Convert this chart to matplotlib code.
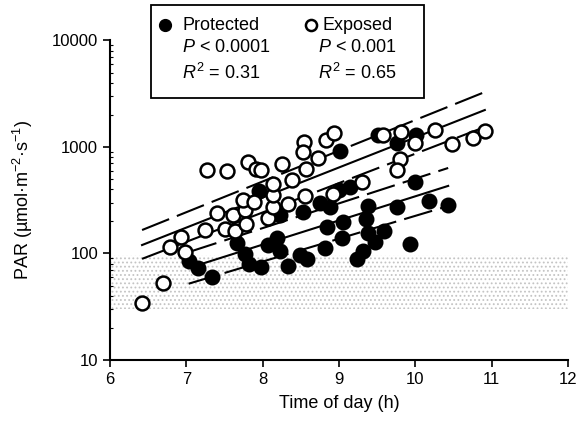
import matplotlib
matplotlib.use("Agg")
import matplotlib.pyplot as plt
from matplotlib.patches import Rectangle
from matplotlib.lines import Line2D

plt.rcParams['font.family'] = ['Liberation Sans', 'DejaVu Sans']
plt.rcParams['mathtext.fontset'] = 'custom'
plt.rcParams['mathtext.rm'] = 'Liberation Sans'
plt.rcParams['mathtext.it'] = 'Liberation Sans:italic'
plt.rcParams['font.size'] = 12
plt.rcParams['hatch.linewidth'] = 0.8

# Exposed sites (open circles)
exposed_time = [6.42, 6.69, 6.79, 6.93, 6.98, 7.25, 7.40, 7.51, 7.61, 7.64,
                7.77, 7.78, 7.74, 7.89, 8.07, 8.14, 8.14, 8.14, 8.38, 8.33,
                8.56, 8.92, 7.27, 7.53, 7.81, 7.91, 7.98, 8.25, 8.54, 8.53,
                8.73, 8.57, 8.83, 8.94, 9.30, 9.58, 9.81, 10.00, 9.80, 9.76,
                10.26, 10.48, 10.76, 10.91]
exposed_par = [34, 53, 115, 143, 103, 166, 240, 170, 230, 163,
               256, 189, 318, 305, 215, 273, 354, 449, 490, 292,
               347, 362, 608, 595, 723, 621, 608, 692, 1114, 897,
               788, 621, 1164, 1353, 469, 1296, 1384, 1091, 771, 608,
               1446, 1067, 1216, 1413]

# Protected sites (filled circles)
protected_time = [7.03, 7.15, 7.34, 7.66, 7.77, 7.82, 7.98, 8.07, 8.19, 8.23,
                  8.33, 8.49, 8.58, 8.53, 8.23, 7.95, 8.75, 8.88, 8.82, 8.84,
                  9.05, 9.04, 9.01, 9.00, 9.14, 9.38, 9.35, 9.38, 9.59, 9.47,
                  9.31, 9.24, 9.76, 9.93, 9.51, 9.76, 10.01, 10.00, 10.18, 10.43]
protected_par = [85, 73, 60, 126, 99, 80, 75, 120, 140, 105,
                 76, 97, 89, 245, 230, 386, 298, 273, 113, 177,
                 198, 140, 916, 394, 421, 279, 211, 156, 163, 128,
                 105, 89, 273, 123, 1296, 1091, 1296, 469, 311, 285]

# regression lines with confidence limits (end points)
exposed_fit_time = [6.42, 10.91]
exposed_fit = [120, 2223]
exposed_upper = [166, 3281]
exposed_lower = [89, 1541]
protected_fit_time = [7.03, 10.43]
protected_fit = [73, 431]
protected_upper = [103, 635]
protected_lower = [52, 279]

# shaded band
shade_time = [6.0, 12.0]
shade_low = [30, 30]
shade_high = [97, 97]

fig = plt.figure(figsize=(5.82, 4.26), dpi=100)
ax = fig.add_axes([0.189, 0.155, 0.787, 0.750])

ax.fill_between(shade_time, shade_low, shade_high, facecolor="none",
                edgecolor="#c4c4c4", hatch="....", linewidth=0, zorder=1)

dash = (14, 4)
for t, fit, up, lo in [(exposed_fit_time, exposed_fit, exposed_upper, exposed_lower),
                       (protected_fit_time, protected_fit, protected_upper, protected_lower)]:
    ax.plot(t, fit, color="black", lw=1.5, zorder=2)
    ax.plot(t, up, color="black", lw=1.5, dashes=dash, zorder=2)
    ax.plot(t, lo, color="black", lw=1.5, dashes=dash, zorder=2)

ax.scatter(protected_time, protected_par, s=100, facecolor="black",
           edgecolor="black", linewidths=1.5, zorder=3)
ax.scatter(exposed_time, exposed_par, s=100, facecolor="white",
           edgecolor="black", linewidths=1.8, zorder=4)

ax.set_yscale("log")
ax.set_xlim(6, 12)
ax.set_ylim(10, 10000)
ax.set_xticks(range(6, 13))
ax.set_yticks([10, 100, 1000, 10000])
ax.set_yticklabels(["10", "100", "1000", "10000"])
ax.tick_params(axis="both", which="major", direction="out", length=5, width=1.2, labelsize=12)
ax.tick_params(axis="y", which="minor", direction="in", length=2.5, width=0.8)
ax.spines["top"].set_visible(False)
ax.spines["right"].set_visible(False)
ax.spines["left"].set_linewidth(1.5)
ax.spines["bottom"].set_linewidth(1.5)

ax.set_xlabel("Time of day (h)", fontsize=13, labelpad=6)
ax.set_ylabel("PAR (µmol·m$^{-2}$·s$^{-1}$)", fontsize=13, labelpad=12)

# legend box, drawn in figure pixels
W, H = 582, 426
def fx(px):
    return px / W
def fy(py):
    return 1 - py / H

fig.patches.append(Rectangle((fx(151), fy(98)), fx(424) - fx(151), fy(5) - fy(98),
                             transform=fig.transFigure, facecolor="white",
                             edgecolor="black", linewidth=1.3, zorder=10))
fig.lines.append(Line2D([fx(165)], [fy(25)], marker="o", markersize=8.5,
                        markerfacecolor="black", markeredgecolor="black",
                        transform=fig.transFigure, zorder=11))
fig.lines.append(Line2D([fx(311)], [fy(25)], marker="o", markersize=8,
                        markerfacecolor="white", markeredgecolor="black", markeredgewidth=1.8,
                        transform=fig.transFigure, zorder=11))
txt = dict(fontsize=13, va="center", ha="left", zorder=11)
fig.text(fx(182), fy(25), "Protected", **txt)
fig.text(fx(322), fy(25), "Exposed", **txt)
fig.text(fx(182), fy(48), "$P$ < 0.0001", **txt)
fig.text(fx(318), fy(48), "$P$ < 0.001", **txt)
fig.text(fx(182), fy(73), "$R^2$ = 0.31", **txt)
fig.text(fx(318), fy(73), "$R^2$ = 0.65", **txt)

fig.savefig("out.png", dpi=100)
